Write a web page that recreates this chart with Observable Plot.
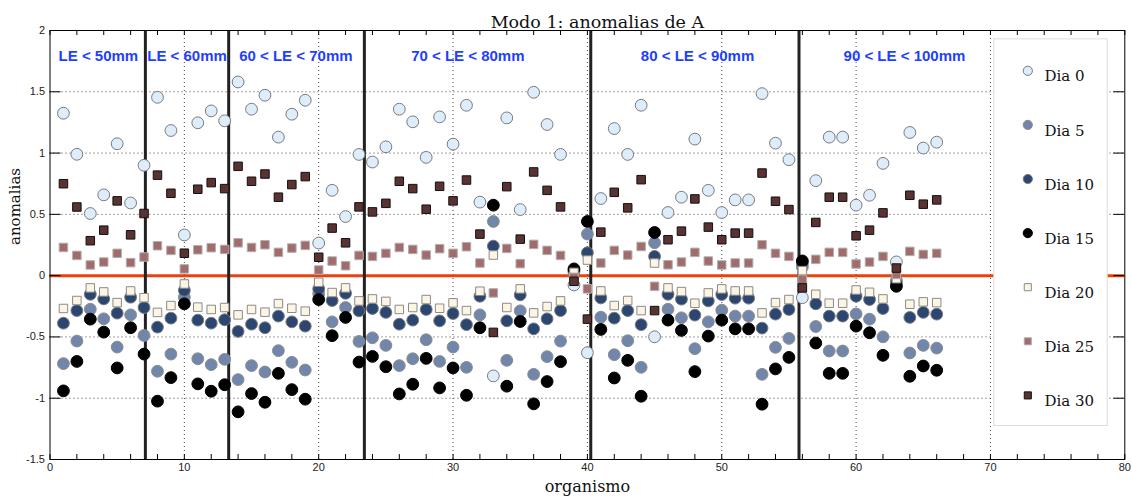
<!DOCTYPE html>
<html>
<head>
<meta charset="utf-8">
<script src="https://cdn.jsdelivr.net/npm/d3@7"></script>
<script src="https://cdn.jsdelivr.net/npm/@observablehq/plot@0.6"></script>
<style>
  html, body { margin: 0; padding: 0; background: #fff; }
  #chart svg { display: block; }
</style>
</head>
<body>
<div id="chart"></div>
<script>
// Organism index (1..66)
const organismo = d3.range(1, 67);

// Mode-1 anomalies of A per sampling day
const dia0 = [1.325,0.99,0.507,0.659,1.076,0.593,0.90,1.455,1.184,0.332,1.247,1.344,1.263,1.58,1.358,1.472,1.13,1.317,1.431,0.266,0.696,0.482,0.989,0.927,1.051,1.358,1.255,0.965,1.295,1.073,1.39,0.60,-0.818,1.287,0.539,1.496,1.233,0.989,-0.076,-0.629,0.629,1.20,0.989,1.39,-0.499,0.515,0.64,1.114,0.696,0.515,0.618,0.618,1.485,1.081,0.946,-0.18,0.775,1.13,1.13,0.575,0.656,0.916,0.112,1.168,1.041,1.089];
const dia5 = [-0.718,-0.534,-0.274,-0.352,-0.583,-0.32,-0.488,-0.78,-0.64,-0.176,-0.678,-0.726,-0.683,-0.848,-0.734,-0.786,-0.612,-0.707,-0.77,-0.149,-0.377,-0.26,-0.537,-0.507,-0.569,-0.734,-0.678,-0.523,-0.70,-0.583,-0.748,-0.32,0.442,-0.691,-0.287,-0.805,-0.661,-0.534,0.03,0.339,-0.339,-0.645,-0.531,-0.748,0.268,-0.274,-0.344,-0.596,-0.377,-0.282,-0.33,-0.33,-0.805,-0.585,-0.512,0.07,-0.415,-0.615,-0.615,-0.312,-0.355,-0.499,-0.04,-0.631,-0.569,-0.591];
const dia10 = [-0.388,-0.285,-0.152,-0.19,-0.306,-0.176,-0.26,-0.42,-0.347,-0.12,-0.363,-0.388,-0.36,-0.455,-0.396,-0.425,-0.33,-0.377,-0.412,-0.108,-0.203,-0.144,-0.287,-0.268,-0.30,-0.396,-0.363,-0.276,-0.369,-0.309,-0.40,-0.168,0.241,-0.369,-0.157,-0.434,-0.352,-0.285,0.04,0.187,-0.182,-0.347,-0.285,-0.40,0.157,-0.152,-0.192,-0.322,-0.206,-0.154,-0.184,-0.184,-0.428,-0.314,-0.276,0.10,-0.23,-0.33,-0.33,-0.168,-0.195,-0.268,-0.06,-0.341,-0.30,-0.314];
const dia15 = [-0.94,-0.70,-0.355,-0.461,-0.753,-0.425,-0.64,-1.024,-0.832,-0.23,-0.883,-0.943,-0.89,-1.111,-0.962,-1.033,-0.797,-0.93,-1.008,-0.195,-0.49,-0.341,-0.705,-0.659,-0.743,-0.965,-0.886,-0.675,-0.916,-0.753,-0.976,-0.425,0.575,-0.902,-0.374,-1.046,-0.864,-0.702,0.055,0.442,-0.439,-0.835,-0.691,-0.984,0.352,-0.363,-0.447,-0.783,-0.493,-0.363,-0.434,-0.434,-1.049,-0.761,-0.667,0.12,-0.55,-0.797,-0.797,-0.412,-0.466,-0.65,-0.087,-0.821,-0.737,-0.772];
const dia20 = [-0.268,-0.203,-0.10,-0.133,-0.22,-0.125,-0.18,-0.30,-0.244,-0.068,-0.257,-0.276,-0.26,-0.32,-0.276,-0.298,-0.228,-0.266,-0.29,-0.054,-0.138,-0.10,-0.206,-0.19,-0.21,-0.276,-0.26,-0.195,-0.266,-0.222,-0.285,-0.127,0.168,-0.26,-0.108,-0.304,-0.252,-0.206,0.027,0.127,-0.125,-0.244,-0.203,-0.285,0.103,-0.10,-0.13,-0.225,-0.141,-0.108,-0.125,-0.125,-0.304,-0.22,-0.195,0.041,-0.152,-0.225,-0.225,-0.117,-0.136,-0.19,-0.025,-0.233,-0.214,-0.22];
const dia25 = [0.23,0.165,0.087,0.111,0.182,0.106,0.152,0.244,0.206,0.055,0.211,0.228,0.214,0.268,0.23,0.252,0.19,0.225,0.247,0.046,0.119,0.081,0.165,0.157,0.182,0.23,0.214,0.168,0.22,0.182,0.236,0.103,-0.141,0.222,0.098,0.255,0.206,0.165,-0.014,-0.108,0.103,0.206,0.168,0.238,-0.087,0.089,0.111,0.19,0.119,0.087,0.103,0.103,0.252,0.182,0.157,-0.03,0.133,0.19,0.19,0.095,0.111,0.157,0.01,0.198,0.173,0.182];
const dia30 = [0.75,0.56,0.285,0.371,0.61,0.333,0.507,0.82,0.672,0.183,0.705,0.759,0.71,0.892,0.77,0.829,0.64,0.743,0.808,0.15,0.388,0.268,0.561,0.52,0.59,0.77,0.71,0.542,0.729,0.61,0.78,0.339,-0.463,0.726,0.298,0.846,0.696,0.561,-0.046,-0.355,0.355,0.68,0.553,0.783,-0.285,0.293,0.363,0.626,0.396,0.293,0.347,0.347,0.837,0.607,0.539,-0.10,0.434,0.64,0.64,0.325,0.371,0.512,0.062,0.656,0.583,0.618];

// Series names, in drawing order
const series = ["Dia 0", "Dia 5", "Dia 10", "Dia 15", "Dia 20", "Dia 25", "Dia 30"];
const seriesValues = [dia0, dia5, dia10, dia15, dia20, dia25, dia30];

// Length-class boundaries and their labels
const limites = [7.1, 13.3, 23.4, 40.25, 55.75];
const classes = ["LE < 50mm", "LE < 60mm", "60 < LE < 70mm", "70 < LE < 80mm", "80 < LE < 90mm", "90 < LE < 100mm"];
const classX = [3.6, 10.2, 18.3, 31.1, 48.2, 63.6];

// Axis ticks
const xTicks = d3.range(0, 81, 10);
const xMinor = d3.range(0, 81, 2);
const yTicks = [-1.5, -1, -0.5, 0, 0.5, 1, 1.5, 2];
const yGrid = [-1, -0.5, 0.5, 1, 1.5];

// Marker styles per series
const style = {
  "Dia 0":  {symbol: "circle", fill: "#deedfb", stroke: "#7a7a7a"},
  "Dia 5":  {symbol: "circle", fill: "#7186ab", stroke: "#8c8c8c"},
  "Dia 10": {symbol: "circle", fill: "#2b4670", stroke: "#7a7a7a"},
  "Dia 15": {symbol: "circle", fill: "#000000", stroke: "#000000"},
  "Dia 20": {symbol: "square", fill: "#fdf5e4", stroke: "#8a8a8a"},
  "Dia 25": {symbol: "square", fill: "#a26c6c", stroke: "#b0b0b0"},
  "Dia 30": {symbol: "square", fill: "#5b3232", stroke: "#111111"}
};

const rows = series.flatMap((s, k) =>
  organismo.map((o, i) => ({serie: s, organismo: o, valor: seriesValues[k][i]})));

const W = 1132, H = 501;
const mL = 49.5, mR = 7.7, mT = 30, mB = 42;
const frameW = W - mL - mR, frameH = H - mT - mB;
const serif = "'DejaVu Serif', serif";
const narrow = "'Liberation Sans Narrow', 'Arial Narrow', 'Liberation Sans', sans-serif";

const seriesMarks = series.map(s => {
  const st = style[s];
  const isSq = st.symbol === "square";
  return Plot.dot(rows.filter(d => d.serie === s), {
    x: "organismo", y: "valor",
    symbol: st.symbol, r: isSq ? 4.8 : 5.9,
    fill: st.fill, stroke: st.stroke, strokeWidth: 1
  });
});

// Legend drawn inside the axes box
const legendMarks = [
  Plot.frame({fill: "white", stroke: "#dcdcdc", insetLeft: 943.8, insetRight: 17.6, insetTop: 8.3, insetBottom: 34})
];
series.forEach((s, i) => {
  const st = style[s];
  const isSq = st.symbol === "square";
  legendMarks.push(Plot.dot([s], {
    frameAnchor: "top-left", dx: 977.8, dy: 40.3 + i * 54.1,
    symbol: st.symbol, r: isSq ? 4 : 4.6,
    fill: st.fill, stroke: st.stroke, strokeWidth: 1
  }));
  legendMarks.push(Plot.text([s], {
    text: d => d, frameAnchor: "top-left", dx: 994.5, dy: 40.3 + i * 54.1,
    textAnchor: "start", fontFamily: serif, fontSize: 15, fill: "#111"
  }));
});

const chart = Plot.plot({
  width: W, height: H,
  marginLeft: mL, marginRight: mR, marginTop: mT, marginBottom: mB,
  x: {domain: [0, 80]},
  y: {domain: [-1.5, 2]},
  style: {background: "white", overflow: "visible"},
  marks: [
    // dotted grid
    Plot.ruleX(xTicks.filter(v => v > 0 && v < 80), {x: d => d, stroke: "#444", strokeDasharray: "1,3", strokeWidth: 1}),
    Plot.ruleY(yGrid, {y: d => d, stroke: "#444", strokeDasharray: "1,3", strokeWidth: 1}),
    // zero reference
    Plot.ruleY([0], {y: d => d, stroke: "#e8420e", strokeWidth: 3}),
    // length-class separators
    Plot.ruleX(limites, {x: d => d, stroke: "#222", strokeWidth: 3}),
    ...seriesMarks,
    // class labels
    Plot.text(classes, {x: (d, i) => classX[i], y: () => 1.79, text: d => d,
      fill: "#1f3fff", fontWeight: "bold", fontSize: 15, fontFamily: "'Liberation Sans', Arial, sans-serif"}),
    ...legendMarks,
    // inward ticks on all four sides
    Plot.tickX(xMinor, {x: d => d, insetTop: frameH - 5, stroke: "#000"}),
    Plot.tickX(xMinor, {x: d => d, insetBottom: frameH - 5, stroke: "#000"}),
    Plot.tickY(yTicks, {y: d => d, insetRight: frameW - 11, stroke: "#000"}),
    Plot.tickY(yTicks, {y: d => d, insetLeft: frameW - 11, stroke: "#000"}),
    Plot.frame({stroke: "#000", strokeWidth: 1}),
    // tick labels
    Plot.axisX(xTicks, {anchor: "bottom", tickSize: 0, tickPadding: 4, label: null,
      fontFamily: narrow, fontSize: 11, fill: "#222"}),
    Plot.axisY(yTicks, {anchor: "left", tickSize: 0, tickPadding: 5, label: null,
      fontFamily: narrow, fontSize: 11, fill: "#222", tickFormat: d => String(d)}),
    // titles
    Plot.text(["Modo 1: anomalias de A"], {text: d => d, frameAnchor: "top", dx: 10, dy: -15,
      fontFamily: serif, fontSize: 17.5, fill: "#111"}),
    Plot.text(["organismo"], {text: d => d, frameAnchor: "bottom", dy: 32,
      fontFamily: serif, fontSize: 16, fill: "#111"}),
    Plot.text(["anomalias"], {text: d => d, frameAnchor: "left", dx: -35, rotate: -90,
      fontFamily: serif, fontSize: 15, fill: "#111"})
  ]
});

document.getElementById("chart").appendChild(chart);
</script>
</body>
</html>
